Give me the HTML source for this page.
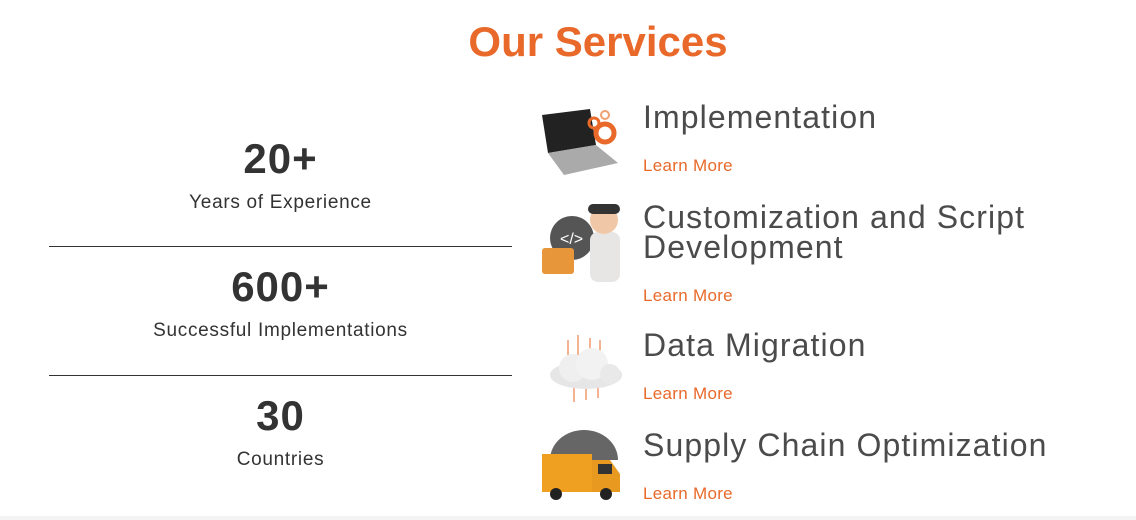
<!DOCTYPE html>
<html><head><style>
body{margin:0;width:1136px;height:520px;background:#fff;position:relative;overflow:hidden;font-family:"Liberation Sans",sans-serif}
.a{position:absolute;white-space:nowrap}
.t{left:643px;font-size:32px;color:#4b4b4b;letter-spacing:1.1px;line-height:30px}
.lm{left:643px;font-size:17px;color:#e8692a;line-height:18px;letter-spacing:0.3px}
.n{width:463px;left:49px;text-align:center;font-size:42px;font-weight:bold;color:#333;line-height:40px;letter-spacing:1px}
.s{width:463px;left:49px;text-align:center;font-size:19px;color:#333;line-height:20px;letter-spacing:0.7px}
.hr{position:absolute;left:49px;width:463px;height:1px;background:#333}
</style></head><body>
<div class="a" style="left:0;width:1196px;text-align:center;top:19px;font-size:42px;font-weight:bold;color:#e8692a;line-height:46px;letter-spacing:0">Our Services</div>

<div class="a n" style="top:139px">20+</div>
<div class="a s" style="top:193px">Years of Experience</div>
<div class="hr" style="top:246px"></div>
<div class="a n" style="top:267px">600+</div>
<div class="a s" style="top:321px">Successful Implementations</div>
<div class="hr" style="top:375px"></div>
<div class="a n" style="top:396px">30</div>
<div class="a s" style="top:450px">Countries</div>

<svg class="a" style="left:538px;top:105px" width="90" height="75">
<polygon points="4,10 52,4 58,40 10,48" fill="#222"/>
<polygon points="10,48 58,40 80,58 26,70" fill="#aaa"/>
<circle cx="67" cy="28" r="9" fill="none" stroke="#e8692a" stroke-width="5"/>
<circle cx="56" cy="18" r="5" fill="none" stroke="#e8692a" stroke-width="3"/>
<circle cx="67" cy="10" r="4" fill="none" stroke="#f0a070" stroke-width="2"/>
</svg>
<svg class="a" style="left:538px;top:200px" width="90" height="85">
<circle cx="34" cy="38" r="22" fill="#555"/>
<text x="22" y="44" font-size="16" fill="#fff" font-family="Liberation Sans">&lt;/&gt;</text>
<rect x="52" y="32" width="30" height="50" rx="8" fill="#e8e6e4"/>
<circle cx="66" cy="20" r="14" fill="#f0c8a8"/>
<rect x="50" y="4" width="32" height="10" rx="5" fill="#333"/>
<rect x="4" y="48" width="32" height="26" rx="3" fill="#e8963a"/>
</svg>
<svg class="a" style="left:538px;top:330px" width="90" height="75">
<g stroke="#e8692a" stroke-width="1"><line x1="30" y1="10" x2="30" y2="30"/><line x1="40" y1="5" x2="40" y2="30"/><line x1="52" y1="8" x2="52" y2="30"/><line x1="62" y1="10" x2="62" y2="30"/><line x1="36" y1="55" x2="36" y2="72"/><line x1="48" y1="55" x2="48" y2="70"/><line x1="60" y1="55" x2="60" y2="68"/></g>
<ellipse cx="48" cy="45" rx="36" ry="14" fill="#e6e6e6"/>
<circle cx="35" cy="38" r="14" fill="#efefef"/><circle cx="54" cy="34" r="16" fill="#f2f2f2"/><circle cx="72" cy="44" r="10" fill="#e9e9e9"/>
</svg>
<svg class="a" style="left:538px;top:430px" width="90" height="75">
<path d="M12 30 A34 30 0 0 1 80 30" fill="#666"/>
<rect x="4" y="24" width="50" height="38" fill="#f0a020"/>
<path d="M54 30 L72 30 L82 44 L82 62 L54 62Z" fill="#e89a20"/>
<rect x="60" y="34" width="14" height="10" fill="#333"/>
<circle cx="18" cy="64" r="6" fill="#222"/><circle cx="68" cy="64" r="6" fill="#222"/>
</svg>

<div class="a t" style="top:102px">Implementation</div>
<div class="a lm" style="top:157px">Learn More</div>
<div class="a t" style="top:202px">Customization and Script<br>Development</div>
<div class="a lm" style="top:287px">Learn More</div>
<div class="a t" style="top:330px">Data Migration</div>
<div class="a lm" style="top:385px">Learn More</div>
<div class="a t" style="top:430px">Supply Chain Optimization</div>
<div class="a lm" style="top:485px">Learn More</div>
<div class="a" style="left:0;top:516px;width:1136px;height:4px;background:#f4f4f4"></div>
</body></html>
